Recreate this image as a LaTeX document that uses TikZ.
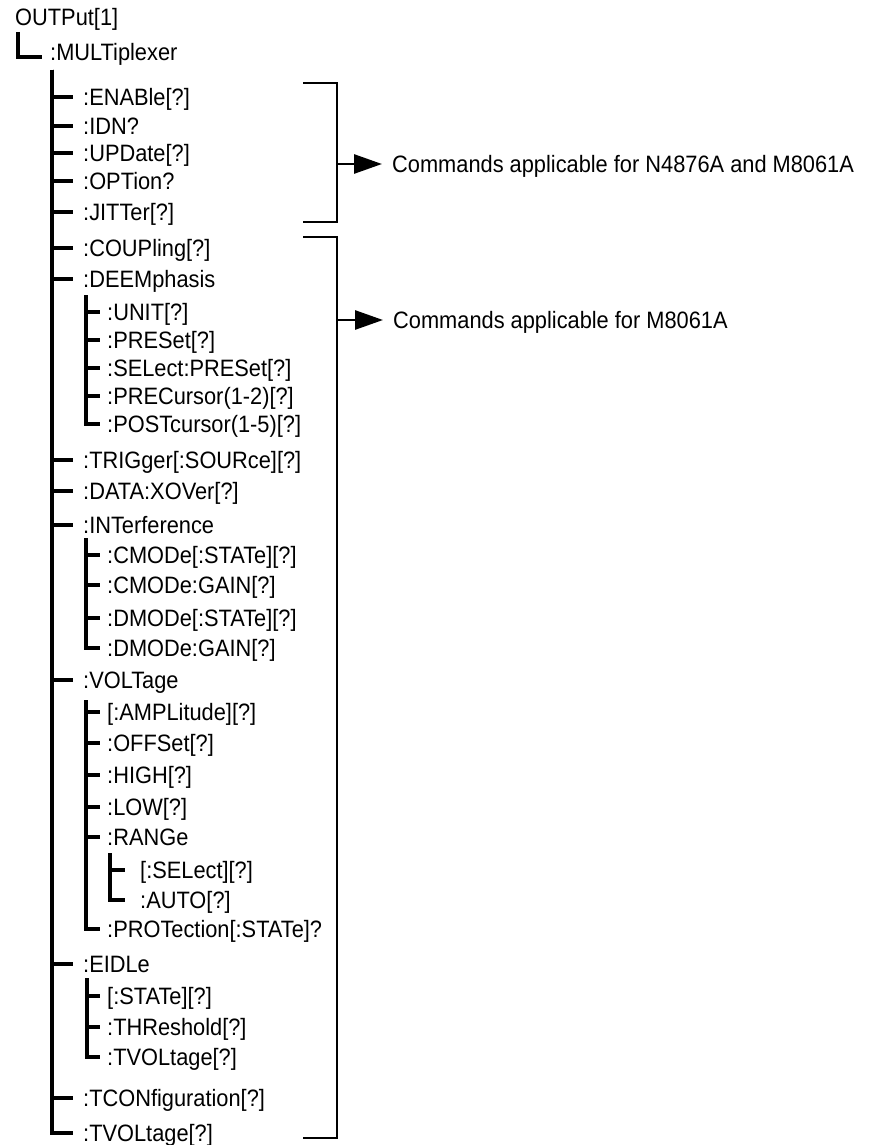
\documentclass[tikz,border=0pt]{standalone}
\usepackage{fontspec}
\setmainfont{Liberation Sans}[FakeStretch=0.92]
\usetikzlibrary{arrows.meta}

\tikzset{
  cmd/.style={anchor=west, inner sep=0pt, text height=17pt, text depth=0pt,
    font=\fontsize{23.7pt}{28pt}\selectfont},
  tree/.style={line width=3.3pt},
  brace/.style={line width=2.8pt},
  pointer/.style={line width=2.8pt, -{Triangle[length=28pt,width=19pt]}}
}

\begin{document}
\begin{tikzpicture}[x=1pt,y=-1pt]
\useasboundingbox (0,0) rectangle (868,1145);

% Root and multiplexer
\node[cmd] (root) at (15,17) {OUTPut[1]};
\node[cmd] (mux) at (50,52) {:MULTiplexer};
\draw[tree] ([xshift=3pt,yshift=-15pt]root.west) |- ([xshift=-8pt,yshift=-5pt]mux.west);

% Commands under :MULTiplexer
\coordinate (muxtrunk) at (52,70);
\foreach \nm/\y/\txt in {enable/97/{:ENABle[?]}, idn/126/{:IDN?}, update/153/{:UPDate[?]},
    option/181/{:OPTion?}, jitter/212/{:JITTer[?]}, coupling/248/{:COUPling[?]},
    deemph/279/{:DEEMphasis}, trigger/460/{:TRIGger[:SOURce][?]}, xover/491/{:DATA:XOVer[?]},
    interf/525/{:INTerference}, volt/680/{:VOLTage}, eidle/964/{:EIDLe},
    tconf/1098/{:TCONfiguration[?]}, tvolt/1133/{:TVOLtage[?]}} {
    \node[cmd] (\nm) at (83,\y) {\txt};
    \draw[tree] (muxtrunk) |- ([xshift=-10pt]\nm.west);
}

% :DEEMphasis
\coordinate (deemphtrunk) at ([xshift=3pt,yshift=-16pt]deemph.west);
\foreach \nm/\y/\txt in {unit/312/{:UNIT[?]}, preset/340/{:PRESet[?]}, selpreset/368/{:SELect:PRESet[?]},
    precursor/396/{:PRECursor(1-2)[?]}, postcursor/424/{:POSTcursor(1-5)[?]}} {
    \node[cmd] (\nm) at (107,\y) {\txt};
    \draw[tree] (deemphtrunk) |- ([xshift=-7pt]\nm.west);
}

% :INTerference
\coordinate (interftrunk) at ([xshift=3pt,yshift=-13pt]interf.west);
\foreach \nm/\y/\txt in {cmodestate/555/{:CMODe[:STATe][?]}, cmodegain/585/{:CMODe:GAIN[?]},
    dmodestate/618/{:DMODe[:STATe][?]}, dmodegain/648/{:DMODe:GAIN[?]}} {
    \node[cmd] (\nm) at (107,\y) {\txt};
    \draw[tree] (interftrunk) |- ([xshift=-7pt]\nm.west);
}

% :VOLTage
\coordinate (volttrunk) at ([xshift=3pt,yshift=-20pt]volt.west);
\foreach \nm/\y/\txt in {ampl/712/{[:AMPLitude][?]}, offset/743/{:OFFSet[?]}, high/775/{:HIGH[?]},
    low/807/{:LOW[?]}, range/837/{:RANGe}, protect/929/{:PROTection[:STATe]?}} {
    \node[cmd] (\nm) at (107,\y) {\txt};
    \draw[tree] (volttrunk) |- ([xshift=-7pt]\nm.west);
}

% :RANGe
\coordinate (rangetrunk) at ([xshift=3pt,yshift=-16pt]range.west);
\foreach \nm/\y/\txt in {rangesel/870/{[:SELect][?]}, rangeauto/900/{:AUTO[?]}} {
    \node[cmd] (\nm) at (140,\y) {\txt};
    \draw[tree] (rangetrunk) |- ([xshift=-15pt]\nm.west);
}

% :EIDLe
\coordinate (eidletrunk) at ([xshift=4pt,yshift=-14pt]eidle.west);
\foreach \nm/\y/\txt in {estate/996/{[:STATe][?]}, thresh/1027/{:THReshold[?]}, etvolt/1057/{:TVOLtage[?]}} {
    \node[cmd] (\nm) at (107,\y) {\txt};
    \draw[tree] (eidletrunk) |- ([xshift=-7pt]\nm.west);
}

% Brackets and notes
\draw[brace] (303,83) -| (337,222) -- (303,222);
\coordinate (brk1) at (337,164);
\node[cmd] (note1) at (392,164) {Commands applicable for N4876A and M8061A};
\draw[pointer] (brk1) -- ([xshift=-10pt]note1.west);

\draw[brace] (303,237) -| (337,1138) -- (303,1138);
\coordinate (brk2) at (337,320);
\node[cmd] (note2) at (393,320) {Commands applicable for M8061A};
\draw[pointer] (brk2) -- ([xshift=-10pt]note2.west);

\end{tikzpicture}
\end{document}
